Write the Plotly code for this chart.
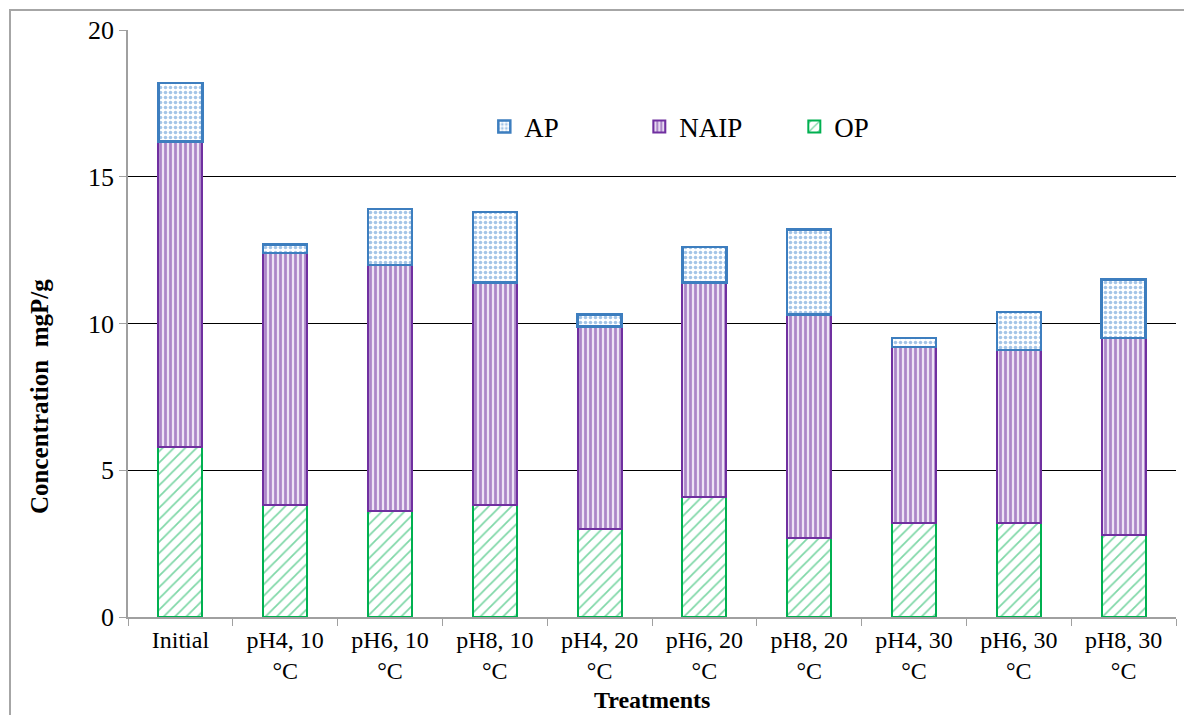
import plotly.graph_objects as go

# Treatments on the category axis
treatments = ["Initial", "pH4, 10<br>°C", "pH6, 10<br>°C", "pH8, 10<br>°C",
              "pH4, 20<br>°C", "pH6, 20<br>°C", "pH8, 20<br>°C",
              "pH4, 30<br>°C", "pH6, 30<br>°C", "pH8, 30<br>°C"]

# Phosphorus fractions (mgP/g), stacked bottom to top: OP, NAIP, AP
op = [5.8, 3.8, 3.6, 3.8, 3.0, 4.1, 2.7, 3.2, 3.2, 2.8]
naip = [10.4, 8.6, 8.4, 7.6, 6.9, 7.3, 7.6, 6.0, 5.9, 6.7]
ap = [2.0, 0.3, 1.9, 2.4, 0.4, 1.2, 2.9, 0.3, 1.3, 2.0]

FONT = "Liberation Serif"

fig = go.Figure()

fig.add_trace(go.Bar(
    name="OP", x=treatments, y=op, legendrank=3,
    marker=dict(color="white", line=dict(color="#00B050", width=2),
                pattern=dict(shape="/", fgcolor="#00B050", bgcolor="white",
                             size=8, solidity=0.22)),
))
fig.add_trace(go.Bar(
    name="NAIP", x=treatments, y=naip, legendrank=2,
    marker=dict(color="white", line=dict(color="#7030A0", width=2),
                pattern=dict(shape="|", fgcolor="#6A2A9C", bgcolor="#EDE3F5",
                             size=5, solidity=0.55)),
))
fig.add_trace(go.Bar(
    name="AP", x=treatments, y=ap, legendrank=1,
    marker=dict(color="white", line=dict(color="#3D7EBF", width=2.5),
                pattern=dict(shape=".", fgcolor="#4A8BD0", bgcolor="white",
                             size=5, solidity=0.4)),
))

L, R, T, B = 128, 8, 30, 98
W, H = 1184, 715
pw, ph = W - L - R, H - T - B

fig.update_layout(
    width=W, height=H,
    margin=dict(l=L, r=R, t=T, b=B, autoexpand=False),
    barmode="stack", bargap=0.58,
    plot_bgcolor="white", paper_bgcolor="white",
    font=dict(family=FONT, size=26, color="black"),
    showlegend=True,
    legend=dict(orientation="h", x=0.34, y=0.835, xanchor="left", yanchor="middle",
                traceorder="normal", entrywidth=110, entrywidthmode="pixels",
                font=dict(family=FONT, size=27, color="black"), itemwidth=30,
                bgcolor="rgba(0,0,0,0)"),
    xaxis=dict(
        showline=True, linecolor="#A0A0A0", linewidth=1.5,
        ticks="outside", tickson="boundaries", ticklen=7, tickcolor="#A0A0A0",
        tickfont=dict(family=FONT, size=24), ticklabelstandoff=0,
    ),
    yaxis=dict(
        range=[0, 20], dtick=5,
        showgrid=True, gridcolor="black", gridwidth=1.2,
        showline=True, linecolor="#A0A0A0", linewidth=1.5,
        ticks="outside", ticklen=7, tickcolor="#A0A0A0",
        tickfont=dict(family=FONT, size=26),
        zeroline=False,
    ),
)

# Horizontal axis title, just under the two-line category labels
fig.add_annotation(text="<b>Treatments</b>",
                   xref="paper", yref="paper",
                   x=0.5, y=-(700 - (H - B)) / ph,
                   xanchor="center", yanchor="middle", showarrow=False,
                   font=dict(family=FONT, size=24, color="black"))

# Vertical axis title, placed a little below the plot's mid-height
fig.add_annotation(text="<b>Concentration  mgP/g</b>", textangle=-90,
                   xref="paper", yref="paper",
                   x=(40 - L) / pw, y=(H - B - 397) / ph,
                   xanchor="center", yanchor="middle", showarrow=False,
                   font=dict(family=FONT, size=25, color="black"))

# Outer frame around the chart area
fig.add_shape(type="rect", xref="paper", yref="paper",
              x0=(10 - L) / pw, x1=(W + 20 - L) / pw,
              y0=-(H + 20 - T - ph) / ph, y1=1 + (T - 10) / ph,
              line=dict(color="#A6A6A6", width=2), fillcolor="rgba(0,0,0,0)", layer="below")

fig.write_html("out.html")
